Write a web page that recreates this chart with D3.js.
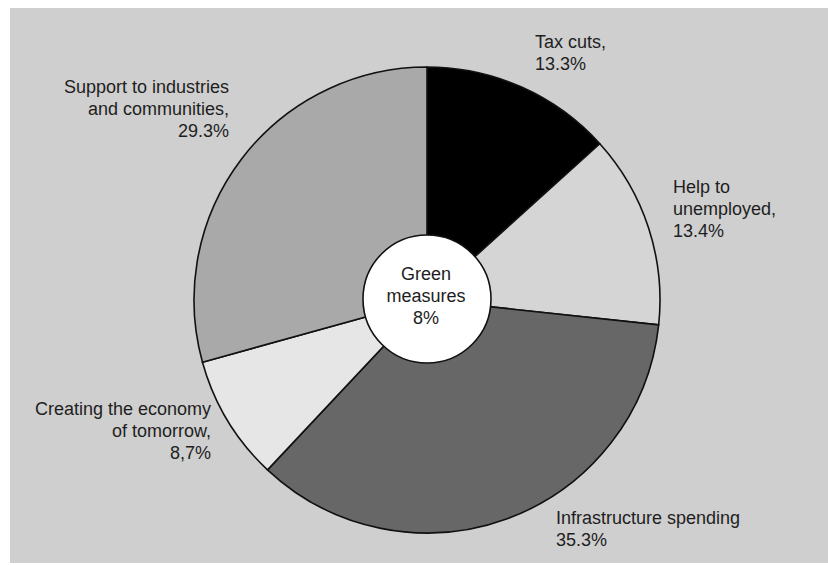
<!DOCTYPE html>
<html>
<head>
<meta charset="utf-8">
<script src="https://cdn.jsdelivr.net/npm/d3@7/dist/d3.min.js"></script>
<style>
  html, body { margin: 0; padding: 0; background: #ffffff; }
  svg { display: block; }
  text { font-family: "Liberation Sans", Arial, sans-serif; font-size: 18px; fill: #1e1e1e; }
</style>
</head>
<body>
<svg id="chart" width="828" height="565"></svg>
<script>
// Shares of the stimulus package, clockwise from 12 o'clock
const categories = [
  "Tax cuts",
  "Help to unemployed",
  "Infrastructure spending",
  "Creating the economy of tomorrow",
  "Support to industries and communities"
];
const shares = [13.3, 13.4, 35.3, 8.7, 29.3];
const fills = ["#000000", "#d5d5d5", "#676767", "#e6e6e6", "#a9a9a9"];

// Label lines for each slice
const labelLines = [
  ["Tax cuts,", "13.3%"],
  ["Help to", "unemployed,", "13.4%"],
  ["Infrastructure spending", "35.3%"],
  ["Creating the economy", "of tomorrow,", "8,7%"],
  ["Support to industries", "and communities,", "29.3%"]
];
const greenShare = 8;
const greenLines = ["Green", "measures", greenShare + "%"];

const svg = d3.select("#chart");
const W = 828, H = 565;

// grey panel
svg.append("rect")
  .attr("x", 10).attr("y", 8)
  .attr("width", W - 10).attr("height", H - 10)
  .attr("fill", "#cfcfcf");

const cx = 427, cy = 300, R = 233;
const g = svg.append("g").attr("transform", `translate(${cx},${cy})`);

const pie = d3.pie().sort(null).value(d => d.value);
const data = pie(categories.map((c, i) => ({ name: c, value: shares[i], fill: fills[i] })));
const arc = d3.arc().innerRadius(0).outerRadius(R);

g.selectAll("path.slice")
  .data(data)
  .join("path")
  .attr("class", "slice")
  .attr("d", arc)
  .attr("fill", d => d.data.fill)
  .attr("stroke", "#111")
  .attr("stroke-width", 1.6)
  .attr("stroke-linejoin", "round");

// centre disc for the green measures share
g.append("circle")
  .attr("cx", 0).attr("cy", -1)
  .attr("r", 64)
  .attr("fill", "#ffffff")
  .attr("stroke", "#111")
  .attr("stroke-width", 1.6);

const lh = 21.8;
g.append("text")
  .attr("text-anchor", "middle")
  .selectAll("tspan")
  .data(greenLines)
  .join("tspan")
  .attr("x", -1)
  .attr("y", (d, i) => -20 + i * lh)
  .text(d => d);

// outer labels: anchor point of first baseline and alignment
const labelPos = [
  { x: 535, y: 48, anchor: "start" },
  { x: 673, y: 193, anchor: "start" },
  { x: 556, y: 524, anchor: "start" },
  { x: 211, y: 415, anchor: "end" },
  { x: 229, y: 93, anchor: "end" }
];

svg.selectAll("text.label")
  .data(labelLines)
  .join("text")
  .attr("class", "label")
  .attr("text-anchor", (d, i) => labelPos[i].anchor)
  .each(function (lines, i) {
    d3.select(this).selectAll("tspan")
      .data(lines)
      .join("tspan")
      .attr("x", labelPos[i].x)
      .attr("y", (d, j) => labelPos[i].y + j * lh)
      .text(d => d);
  });
</script>
</body>
</html>
